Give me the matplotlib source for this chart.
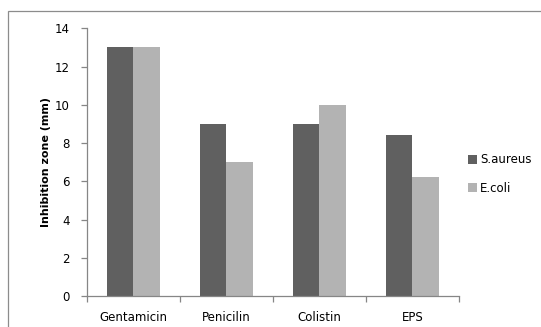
import matplotlib
matplotlib.use("Agg")
import matplotlib.pyplot as plt
import numpy as np
from matplotlib.patches import Rectangle

categories = ["Gentamicin", "Penicilin", "Colistin", "EPS"]
s_aureus = [13, 9, 9, 8.4]
e_coli = [13, 7, 10, 6.2]
series_names = ["S.aureus", "E.coli"]
y_ticks = [0, 2, 4, 6, 8, 10, 12, 14]

W, H = 541, 327
fig = plt.figure(figsize=(W / 100, H / 100), dpi=100)
fig.patch.set_facecolor("white")

# chart-area frame
fig.patches.append(Rectangle((8 / W, -0.1), 1.2, 1.1 - 11 / H,
                             transform=fig.transFigure, fill=False,
                             edgecolor="#8c8c8c", linewidth=0.9))

left, right, bottom, top = 86.7, 459, 296, 28.3
ax = fig.add_axes([left / W, 1 - bottom / H, (right - left) / W, (bottom - top) / H])

x = np.arange(len(categories))
bw = 0.286
ax.bar(x - bw / 2, s_aureus, bw, color="#606060", label=series_names[0], zorder=2)
ax.bar(x + bw / 2, e_coli, bw, color="#b3b3b3", label=series_names[1], zorder=2)

ax.set_xlim(-0.5, len(categories) - 0.5)
ax.set_ylim(0, 14)
ax.set_yticks(y_ticks)
ax.set_xticks(x)
ax.set_xticklabels(categories)
ax.set_xticks(np.arange(len(categories) + 1) - 0.5, minor=True)
ax.tick_params(axis="x", which="major", length=0, pad=11, labelsize=8.5, colors="#000000")
ax.tick_params(axis="x", which="minor", length=4, width=0.9, color="#868686", direction="out")
ax.tick_params(axis="y", length=4, width=0.9, color="#868686", direction="out",
               pad=8, labelsize=8.5, labelcolor="#000000")

for s in ["top", "right"]:
    ax.spines[s].set_visible(False)
for s in ["left", "bottom"]:
    ax.spines[s].set_color("#868686")
    ax.spines[s].set_linewidth(0.9)

ax.set_ylabel("Inhibition zone (mm)", fontsize=8, fontweight="bold", labelpad=3)

leg = fig.legend(loc="center left", bbox_to_anchor=(463 / W, 1 - 174 / H),
                 frameon=False, fontsize=8.5, handlelength=0.75, handleheight=0.75,
                 handletextpad=0.3, labelspacing=1.3, borderaxespad=0)

fig.savefig("out.png", dpi=100, facecolor="white")
